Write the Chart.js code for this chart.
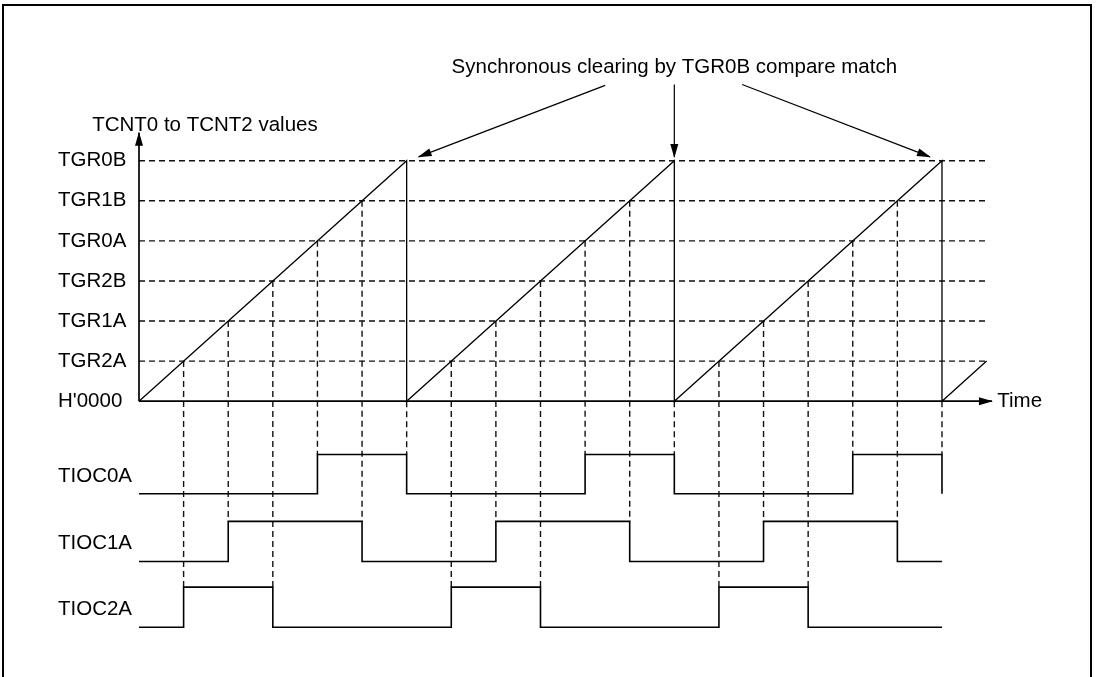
<!DOCTYPE html>
<html>
<head>
<meta charset="utf-8">
<script src="https://cdn.jsdelivr.net/npm/chart.js@4/dist/chart.umd.min.js"></script>
<style>
  body { margin: 0; background: #fff; }
  #wrap { position: relative; width: 1099px; height: 677px; overflow: hidden; }
  #frame { position: absolute; left: 2px; top: 4px; width: 1086px; height: 700px; border: 2px solid #000; pointer-events: none; }
  canvas { position: absolute; left: 0; top: 0; }
</style>
</head>
<body>
<div id="wrap">
  <canvas id="timing" width="1099" height="677"></canvas>
  <div id="frame"></div>
</div>
<script>
// counter levels (compare registers), bottom to top
const levelValues = [0, 1, 2, 3, 4, 5, 6];
const levelLabels = ["H'0000", 'TGR2A', 'TGR1A', 'TGR2B', 'TGR0A', 'TGR1B', 'TGR0B'];

// TCNT0..TCNT2 sawtooth, cleared by TGR0B every 6 time units
const counterX = [0, 6, 6, 12, 12, 18, 18, 19];
const counterY = [0, 6, 0, 6, 0, 6, 0, 1];
const clearTimes = [6, 12, 18];

// output waveforms (logic 0/1)
const signalNames = ['TIOC0A', 'TIOC1A', 'TIOC2A'];
const tioc0aX = [0, 4, 6, 10, 12, 16, 18];
const tioc0aY = [0, 1, 0, 1, 0, 1, 0];
const tioc1aX = [0, 2, 5, 8, 11, 14, 17, 18];
const tioc1aY = [0, 1, 0, 1, 0, 1, 0, 0];
const tioc2aX = [0, 1, 3, 7, 9, 13, 15, 18];
const tioc2aY = [0, 1, 0, 1, 0, 1, 0, 0];
// which output toggles at compare match with level 1..6
const matchSignal = [2, 1, 2, 0, 1, 0];

const titleText = 'Synchronous clearing by TGR0B compare match';
const yTitleText = 'TCNT0 to TCNT2 values';
const xTitleText = 'Time';

// lanes of the waveforms below the counter axis (y units)
const laneHigh = [-1.33, -3.0, -4.64];
const laneLow = [-2.31, -4.0, -5.64];
const xEnd = 19;

const FONT = '"Liberation Sans", Arial, Helvetica, sans-serif';

const yTickValues = levelValues.concat(laneHigh.map((h, i) => (h + laneLow[i]) / 2 - 0.05));
const yTickLabels = levelLabels.concat(signalNames);

function pts(xs, ys) { return xs.map((x, i) => ({ x: x, y: ys[i] })); }
function lane(xs, ys, i) { return xs.map((x, k) => ({ x: x, y: ys[k] ? laneHigh[i] : laneLow[i] })); }

// dashed level lines
const hDash = [];
levelValues.slice(1).forEach(v => { hDash.push({ x: 0, y: v }, { x: xEnd, y: v }, { x: xEnd, y: null }); });

// dashed guides from each compare match down to the output edge
const vDash = [];
clearTimes.forEach(t => {
  levelValues.slice(1).forEach((v, k) => {
    const x = t - 6 + v;
    const top = v === 6 ? 0 : v;
    vDash.push({ x: x, y: top }, { x: x, y: laneHigh[matchSignal[k]] }, { x: x, y: null });
  });
});

// annotation arrows from the title to each clearing point
const arrowFrom = [{ x: 10.45, y: 7.88 }, { x: 12, y: 7.9 }, { x: 13.52, y: 7.9 }];
const arrowSets = clearTimes.map((t, i) => {
  const s = arrowFrom[i];
  const tip = { x: t + (s.x - t) * 0.06, y: 6 + (s.y - 6) * 0.05 };
  return { data: [s, tip], borderColor: '#000', borderWidth: 1.2, arrow: true };
});

const extras = {
  id: 'extras',
  afterDatasetsDraw(chart) {
    const ctx = chart.ctx, xs = chart.scales.x, ys = chart.scales.y;
    chart.data.datasets.forEach((ds, i) => {
      if (!ds.arrow) return;
      const p = chart.getDatasetMeta(i).data;
      const a = p[p.length - 2], b = p[p.length - 1];
      const ang = Math.atan2(b.y - a.y, b.x - a.x);
      ctx.save();
      ctx.translate(b.x, b.y);
      ctx.rotate(ang);
      ctx.beginPath();
      ctx.moveTo(1, 0);
      ctx.lineTo(-13, -4);
      ctx.lineTo(-13, 4);
      ctx.closePath();
      ctx.fillStyle = '#000';
      ctx.fill();
      ctx.restore();
    });
    const notes = [
      { text: titleText, x: 12, y: 8.34, align: 'center' },
      { text: yTitleText, x: -1.05, y: 6.89, align: 'left' },
      { text: xTitleText, x: 19.24, y: 0, align: 'left' }
    ];
    ctx.save();
    ctx.font = '20.5px ' + FONT;
    ctx.fillStyle = '#000';
    ctx.textBaseline = 'middle';
    notes.forEach(n => {
      ctx.textAlign = n.align;
      ctx.fillText(n.text, xs.getPixelForValue(n.x), ys.getPixelForValue(n.y));
    });
    ctx.restore();
  }
};

new Chart(document.getElementById('timing'), {
  type: 'scatter',
  data: {
    datasets: [
      { data: pts(counterX, counterY), borderColor: '#000', borderWidth: 1.3 },
      { data: lane(tioc0aX, tioc0aY, 0), borderColor: '#000', borderWidth: 1.6, stepped: true },
      { data: lane(tioc1aX, tioc1aY, 1), borderColor: '#000', borderWidth: 1.6, stepped: true },
      { data: lane(tioc2aX, tioc2aY, 2), borderColor: '#000', borderWidth: 1.6, stepped: true },
      { data: [{ x: 0, y: 0 }, { x: 0, y: 6.7 }], borderColor: '#000', borderWidth: 1.7, arrow: true },
      { data: [{ x: 0, y: 0 }, { x: 19.12, y: 0 }], borderColor: '#000', borderWidth: 1.7, arrow: true },
      ...arrowSets,
      { data: hDash, borderColor: '#111', borderWidth: 1.4, borderDash: [6, 4], spanGaps: false },
      { data: vDash, borderColor: '#111', borderWidth: 1.4, borderDash: [6, 4], spanGaps: false }
    ]
  },
  options: {
    responsive: false,
    animation: false,
    devicePixelRatio: 1,
    showLine: true,
    clip: false,
    layout: { padding: { left: 58, right: 67.8, top: 20.4, bottom: 13.4 } },
    elements: { point: { radius: 0, hoverRadius: 0 }, line: { tension: 0, fill: false } },
    plugins: { legend: { display: false }, tooltip: { enabled: false } },
    events: [],
    scales: {
      x: { type: 'linear', min: 0, max: 20, display: false },
      y: {
        type: 'linear', min: -6.5, max: 9.5,
        grid: { display: false },
        border: { display: false },
        afterBuildTicks: s => { s.ticks = yTickValues.map(v => ({ value: v })); },
        afterFit: s => { s.width = 81; },
        ticks: {
          autoSkip: false,
          crossAlign: 'far',
          color: '#000',
          font: { size: 20.5, family: FONT },
          callback: (v, i) => yTickLabels[i]
        }
      }
    }
  },
  plugins: [extras]
});
</script>
</body>
</html>
